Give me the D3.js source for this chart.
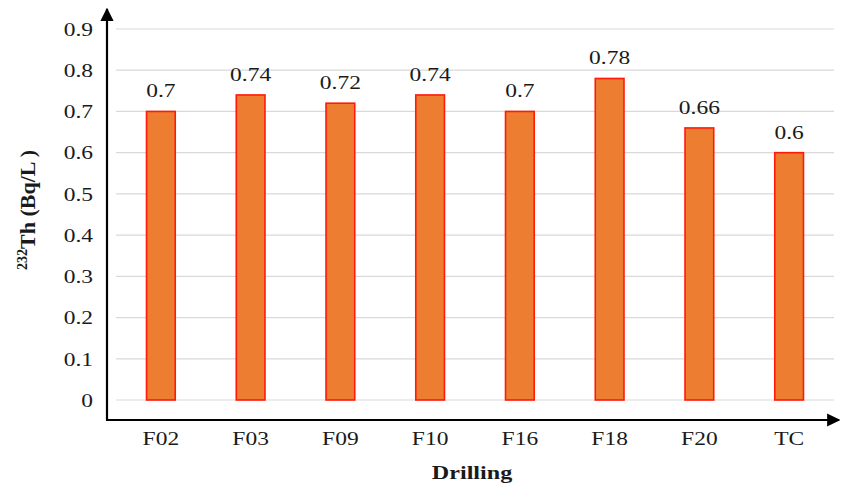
<!DOCTYPE html>
<html>
<head>
<meta charset="utf-8">
<script src="https://cdn.jsdelivr.net/npm/d3@7"></script>
<style>
  html, body { margin: 0; padding: 0; background: #fff; }
  svg { display: block; }
  text { font-family: "Liberation Serif", "Times New Roman", serif; fill: #1a1a1a; }
</style>
</head>
<body>
<svg id="chart" width="841" height="488"></svg>
<script>
// Thorium-232 activity per drilling site
const categories = ["F02", "F03", "F09", "F10", "F16", "F18", "F20", "TC"];
const values = [0.7, 0.74, 0.72, 0.74, 0.7, 0.78, 0.66, 0.6];
const yTicks = [0, 0.1, 0.2, 0.3, 0.4, 0.5, 0.6, 0.7, 0.8, 0.9];

// labels use a slightly widened serif face
const WIDEN = "scale(1.27,1)";
const FS = 18.5;

const svg = d3.select("#chart");

const x = d3.scaleBand()
  .domain(categories)
  .range([116, 834])
  .paddingInner(0.68)
  .paddingOuter(0.34);

const y = d3.scaleLinear()
  .domain([0, 0.9])
  .range([400, 29]);

// horizontal gridlines
svg.append("g")
  .selectAll("line")
  .data(yTicks)
  .join("line")
  .attr("x1", 116)
  .attr("x2", 834)
  .attr("y1", d => y(d))
  .attr("y2", d => y(d))
  .attr("stroke", "#d9d9d9")
  .attr("stroke-width", 1.2);

// y tick labels
const yAxis = d3.axisLeft(y).tickValues(yTicks).tickSize(0).tickPadding(0)
  .tickFormat(d => d === 0 ? "0" : d3.format(".1f")(d));
svg.append("g")
  .attr("transform", "translate(93,0)")
  .call(yAxis)
  .call(g => g.select(".domain").remove())
  .call(g => g.selectAll("text")
    .attr("x", 0)
    .attr("dy", "0.34em")
    .attr("transform", WIDEN)
    .attr("font-family", "Liberation Serif, serif")
    .attr("font-size", FS)
    .attr("fill", "#1a1a1a"));

// bars
svg.append("g")
  .selectAll("rect")
  .data(values)
  .join("rect")
  .attr("x", (d, i) => x(categories[i]))
  .attr("width", x.bandwidth())
  .attr("y", d => y(d))
  .attr("height", d => y(0) - y(d))
  .attr("fill", "#ED7D31")
  .attr("stroke", "#FF1A0A")
  .attr("stroke-width", 1.6);

// value labels
svg.append("g")
  .selectAll("g")
  .data(values)
  .join("g")
  .attr("transform", (d, i) => `translate(${x(categories[i]) + x.bandwidth() / 2},${y(d) - 14})`)
  .append("text")
  .attr("transform", WIDEN)
  .attr("text-anchor", "middle")
  .attr("font-size", FS)
  .text(d => String(d));

// x tick labels
const xAxis = d3.axisBottom(x).tickSize(0).tickPadding(0);
svg.append("g")
  .attr("transform", "translate(0,445)")
  .call(xAxis)
  .call(g => g.select(".domain").remove())
  .call(g => g.selectAll("text")
    .attr("y", 0)
    .attr("dy", 0)
    .attr("transform", WIDEN)
    .attr("font-family", "Liberation Serif, serif")
    .attr("font-size", FS)
    .attr("fill", "#1a1a1a"));

// axis lines with arrowheads
const defs = svg.append("defs");
defs.append("marker")
  .attr("id", "arrow")
  .attr("viewBox", "0 0 10 10")
  .attr("refX", 9)
  .attr("refY", 5)
  .attr("markerWidth", 6)
  .attr("markerHeight", 6)
  .attr("markerUnits", "strokeWidth")
  .attr("orient", "auto")
  .append("path")
  .attr("d", "M0,0 L10,5 L0,10 Z")
  .attr("fill", "#000");

svg.append("line")
  .attr("x1", 107).attr("y1", 420)
  .attr("x2", 107).attr("y2", 9)
  .attr("stroke", "#000").attr("stroke-width", 2.2)
  .attr("marker-end", "url(#arrow)");

svg.append("line")
  .attr("x1", 106).attr("y1", 420)
  .attr("x2", 839).attr("y2", 420)
  .attr("stroke", "#000").attr("stroke-width", 2.2)
  .attr("marker-end", "url(#arrow)");

// axis titles
svg.append("g")
  .attr("transform", "translate(472,479)")
  .append("text")
  .attr("transform", WIDEN)
  .attr("text-anchor", "middle")
  .attr("font-size", 19)
  .attr("font-weight", "bold")
  .text("Drilling");

const yTitle = svg.append("text")
  .attr("transform", "translate(35,210) rotate(-90)")
  .attr("text-anchor", "middle")
  .attr("font-size", 22)
  .attr("font-weight", "bold");
yTitle.append("tspan")
  .attr("font-size", 14)
  .attr("dy", -8)
  .text("232");
yTitle.append("tspan")
  .attr("dy", 8)
  .text("Th (Bq/L )");
</script>
</body>
</html>
